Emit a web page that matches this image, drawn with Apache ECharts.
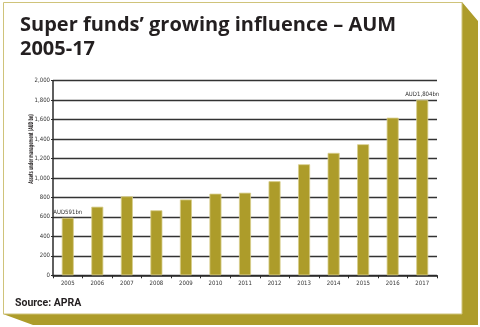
<!DOCTYPE html>
<html>
<head>
<meta charset="utf-8">
<script src="https://cdn.jsdelivr.net/npm/echarts@6/dist/echarts.min.js"></script>
<style>html,body{margin:0;padding:0;background:#fff}#c{width:480px;height:327px}</style>
</head>
<body>
<div id="c"></div>
<script>
const years = ['2005','2006','2007','2008','2009','2010','2011','2012','2013','2014','2015','2016','2017'];
const aum = [591, 705, 812, 668, 779, 839, 849, 967, 1141, 1258, 1347, 1620, 1804];
const annotations = {0: 'AUD591bn', 12: 'AUD1,804bn'};
const yTicks = {min: 0, max: 2000, interval: 200};

const OLIVE = '#ad9c2a';
const narrow = '"Liberation Sans Narrow", "DejaVu Sans Condensed", sans-serif';

const chart = echarts.init(document.getElementById('c'), null, {renderer: 'canvas'});
chart.setOption({
  animation: false,
  backgroundColor: '#ffffff',
  title: {
    text: 'Super funds’ growing influence – AUM\n2005-17',
    left: 15, top: 8,
    textStyle: {fontFamily: '"Open Sans", sans-serif', fontWeight: 'bold', fontSize: 20, lineHeight: 24.5, color: '#231f20'}
  },
  graphic: [
    {type: 'polygon', z: -10, silent: true,
     shape: {points: [[462,2],[478,21],[478,325],[33,325],[3,314],[462,314]]},
     style: {fill: OLIVE}},
    {type: 'rect', z: -9, silent: true,
     shape: {x: 3.5, y: 2.5, width: 458.5, height: 311.5},
     style: {fill: '#ffffff', stroke: '#cfc37a', lineWidth: 1}},
    {type: 'text', left: 15, top: 297.5, z: 5,
     style: {text: 'Source: APRA', font: 'bold 10.5px Roboto, sans-serif', fill: '#231f20'}},
    {type: 'text', x: 31, y: 149, rotation: Math.PI/2, scaleX: 0.58, z: 5,
     style: {text: 'Assets under management (AUD bn)', font: 'bold 6.5px ' + narrow, fill: '#231f20', align: 'center', verticalAlign: 'middle'}}
  ],
  grid: {left: 53, right: 43, top: 80.7, bottom: 51.7},
  xAxis: {
    type: 'category', data: years, boundaryGap: true,
    axisLine: {lineStyle: {color: '#2a2a2a', width: 1.5}},
    axisTick: {show: true, length: 3, lineStyle: {color: '#2a2a2a'}},
    axisLabel: {fontFamily: narrow, fontSize: 6, color: '#333', margin: 5}
  },
  yAxis: {
    type: 'value', min: yTicks.min, max: yTicks.max, interval: yTicks.interval,
    axisLine: {show: true, lineStyle: {color: '#2a2a2a', width: 1.5}},
    axisTick: {show: true, length: 2, lineStyle: {color: '#2a2a2a'}},
    axisLabel: {fontFamily: narrow, fontSize: 6, color: '#333', margin: 3,
      formatter: v => v.toLocaleString('en-US')},
    splitLine: {show: true, lineStyle: {color: '#333333', width: 1.4}}
  },
  series: [{
    type: 'bar', barWidth: 12,
    data: aum.map((v, i) => annotations[i] ? {
      value: v,
      label: {show: true, position: 'top', distance: 2, formatter: annotations[i],
        fontFamily: narrow, fontSize: 6, color: '#333'}
    } : v),
    itemStyle: {color: OLIVE, borderColor: '#d8ce8c', borderWidth: 0.8}
  }]
});
</script>
</body>
</html>
